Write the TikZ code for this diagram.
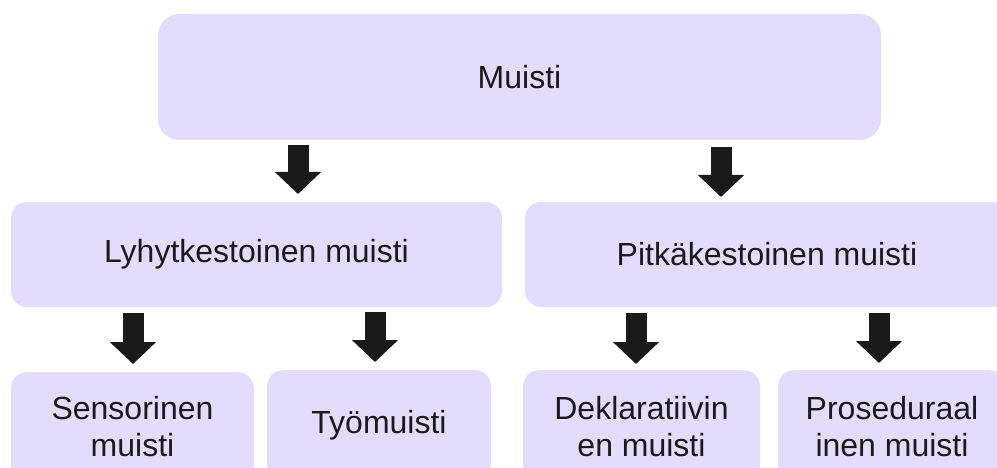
\documentclass[tikz,border=0pt]{standalone}
\usepackage{fontspec}
\setmainfont{Liberation Sans}
\usetikzlibrary{arrows.meta}
\definecolor{boxfill}{RGB}{228,220,253}
\definecolor{arrowfill}{RGB}{26,26,26}
\tikzset{
  box/.style={fill=boxfill, draw=none, inner sep=0pt, align=center,
    font=\fontsize{32}{37}\selectfont, text=arrowfill},
  blockarrow/.style={draw=arrowfill, line width=21pt, line cap=butt,
    -{Triangle[width=45pt,length=22pt]}}
}
\begin{document}
\begin{tikzpicture}[x=1pt,y=-1pt]
\useasboundingbox (0,0) rectangle (997,468);
\clip (0,0) rectangle (997,468);
% boxes
\node[box, minimum width=723pt, minimum height=126pt, rounded corners=21pt] (muisti) at (519.5,77) {Muisti};
\node[box, minimum width=491pt, minimum height=105pt, rounded corners=16pt] (lyhyt) at (256.5,254.5) {Lyhytkestoinen muisti};
\node[box, minimum width=484pt, minimum height=105pt, rounded corners=16pt] (pitka) at (767,254.5) {Pitkäkestoinen muisti};
\node[box, minimum width=243pt, minimum height=110pt, rounded corners=16pt, anchor=north] (sens) at (132.5,372) {};
\node[box, minimum width=224pt, minimum height=110pt, rounded corners=16pt, anchor=north] (tyo) at (379,370) {};
\node[box, minimum width=237pt, minimum height=110pt, rounded corners=16pt, anchor=north] (dekl) at (641.5,370) {};
\node[box, minimum width=228pt, minimum height=110pt, rounded corners=16pt, anchor=north] (pros) at (892,370) {};
% texts of the bottom boxes
\node[box, fill=none] (senst) at (132.5,427) {Sensorinen\\muisti};
\node[box, fill=none] (tyot) at (379,425) {Työmuisti};
\node[box, fill=none] (deklt) at (641.5,427) {Deklaratiivin\\en muisti};
\node[box, fill=none] (prost) at (892,427) {Proseduraal\\inen muisti};
% arrows
\coordinate (a1s) at (298,145); \coordinate (a1e) at (298,194);
\coordinate (a2s) at (721,147); \coordinate (a2e) at (721,197);
\coordinate (b1s) at (133,313); \coordinate (b1e) at (133,364);
\coordinate (b2s) at (375,312); \coordinate (b2e) at (375,362);
\coordinate (b3s) at (636,313); \coordinate (b3e) at (636,364);
\coordinate (b4s) at (879,313); \coordinate (b4e) at (879,363);
\draw[blockarrow] (a1s) -- (a1e);
\draw[blockarrow] (a2s) -- (a2e);
\draw[blockarrow] (b1s) -- (b1e);
\draw[blockarrow] (b2s) -- (b2e);
\draw[blockarrow] (b3s) -- (b3e);
\draw[blockarrow] (b4s) -- (b4e);
\end{tikzpicture}
\end{document}
